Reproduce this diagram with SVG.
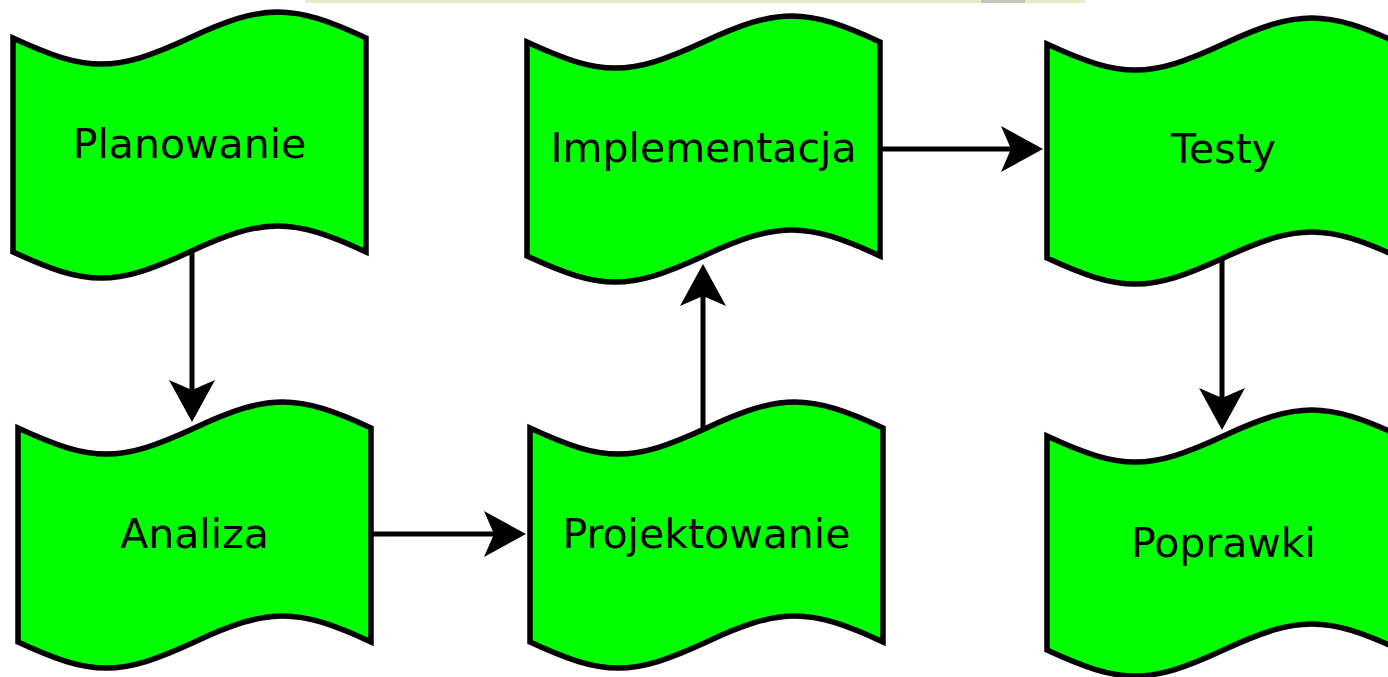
<svg xmlns="http://www.w3.org/2000/svg" xmlns:xlink="http://www.w3.org/1999/xlink" width="1388" height="677" viewBox="0 0 1388 677">
<style>
.tape{fill:#00ff00;stroke:#000;stroke-width:5.5;stroke-linejoin:miter}
.lbl{font-family:"DejaVu Sans","Liberation Sans",sans-serif;font-size:41px;fill:#000;text-anchor:middle}
.edge{fill:none;stroke:#000;stroke-width:5}
</style>
<defs>
<path id="tape" d="M0,0 C74.9,34.7 101.6,34.7 176.5,0 C251.4,-34.7 278.1,-34.7 353,0 L353,214 C278.1,179.3 251.4,179.3 176.5,214 C101.6,248.7 74.9,248.7 0,214 Z"/>
<marker id="arr" viewBox="0 0 42 46" markerWidth="42" markerHeight="46" refX="12" refY="23" orient="auto" markerUnits="userSpaceOnUse">
<path d="M0,0 L42,23 L0,46 L10,23 Z" fill="#000"/>
</marker>
</defs>
<rect width="1388" height="677" fill="#fff"/>
<rect x="305" y="0" width="780" height="3" fill="#e4edc8"/>
<rect x="981" y="0" width="44" height="3" fill="#c6c8c0"/>
<g id="connectors">
<path class="edge" d="M192,252 L192,392" marker-end="url(#arr)"/>
<path class="edge" d="M370,534 L496,534" marker-end="url(#arr)"/>
<path class="edge" d="M703,428 L703,294" marker-end="url(#arr)"/>
<path class="edge" d="M878,149 L1013,149" marker-end="url(#arr)"/>
<path class="edge" d="M1222,257 L1222,400" marker-end="url(#arr)"/>
</g>
<g id="planowanie"><use xlink:href="#tape" href="#tape" class="tape" x="13" y="38"/><text class="lbl" x="189.5" y="158">Planowanie</text></g>
<g id="implementacja"><use xlink:href="#tape" href="#tape" class="tape" x="527" y="42"/><text class="lbl" x="703.5" y="162">Implementacja</text></g>
<g id="testy"><use xlink:href="#tape" href="#tape" class="tape" x="1047" y="44"/><text class="lbl" x="1223.5" y="163">Testy</text></g>
<g id="analiza"><use xlink:href="#tape" href="#tape" class="tape" x="18" y="428"/><text class="lbl" x="194.5" y="548">Analiza</text></g>
<g id="projektowanie"><use xlink:href="#tape" href="#tape" class="tape" x="530" y="428"/><text class="lbl" x="706.5" y="548">Projektowanie</text></g>
<g id="poprawki"><use xlink:href="#tape" href="#tape" class="tape" x="1047" y="436"/><text class="lbl" x="1223.5" y="557">Poprawki</text></g>
</svg>
